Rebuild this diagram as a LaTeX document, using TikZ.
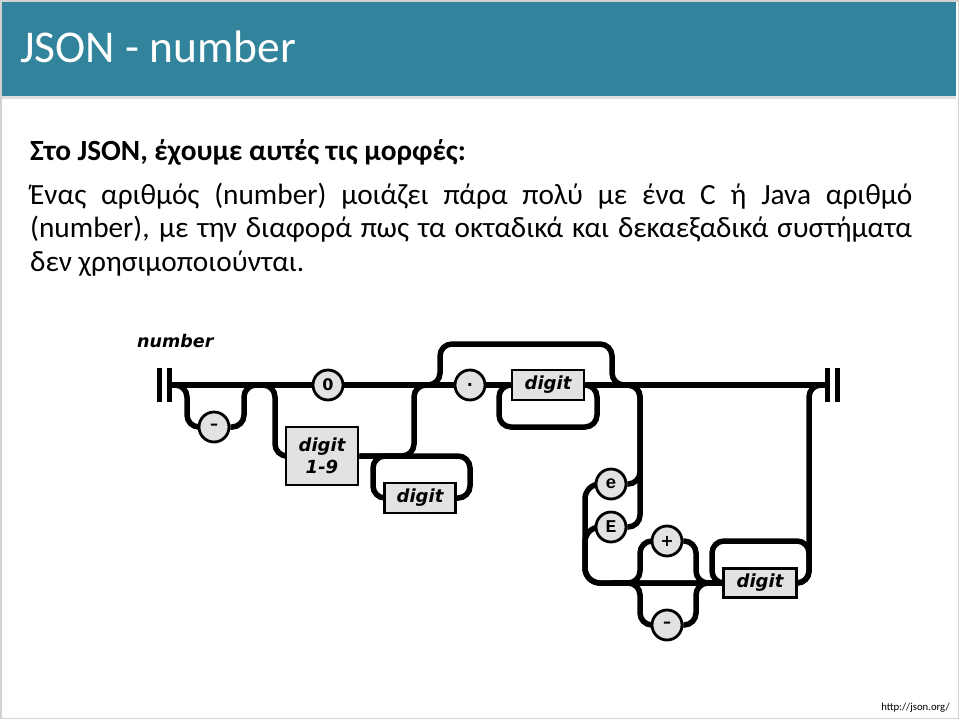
\documentclass[tikz,border=0pt]{standalone}
\usepackage{fontspec}
\setmainfont{Carlito}
\newfontfamily\railfont{DejaVu Sans}[ItalicFont={DejaVu Sans Oblique},BoldItalicFont={DejaVu Sans Bold Oblique}]
\newfontfamily\railmono{Liberation Mono}
\definecolor{titleteal}{HTML}{31849B}
\definecolor{railgray}{HTML}{E2E2E2}
\pgfdeclarelayer{rails}
\pgfsetlayers{rails,main}

\begin{document}
\begin{tikzpicture}[x=1pt, y=-1pt,
        rail/.style={line width=5.5pt, rounded corners=12pt},
        railbar/.style={line width=5pt},
        circ/.style={circle, draw, line width=2.8pt, fill=railgray, minimum size=30pt, inner sep=0pt, font=\railfont\bfseries\fontsize{16}{16}\selectfont},
        box/.style={rectangle, draw, line width=2.8pt, fill=railgray, minimum width=72pt, minimum height=30pt, inner sep=0pt, align=center, font=\railfont\bfseries\itshape\fontsize{18}{22}\selectfont}]
        \useasboundingbox (0,0) rectangle (960,720);
        \begin{pgfonlayer}{rails}
        \fill[white] (0,0) rectangle (960,720);
        \end{pgfonlayer}
        \draw[gray!35, line width=1.5pt] (1,1) rectangle (958.5,718.5);
        \fill[titleteal] (2,2) rectangle (956,96);
        \fill[gray!25] (2,96) rectangle (956,99);
        \node[anchor=base west, inner sep=0, text=white, font=\fontsize{45.5}{50}\selectfont] (title) at (20,62) {JSON - number};
        \node[anchor=base west, inner sep=0, font=\bfseries\fontsize{29.3}{34}\selectfont] (heading) at (30,160) {Στο JSON, έχουμε αυτές τις μορφές:};
        \node[anchor=base west, inner sep=0, font=\fontsize{29.3}{34}\selectfont] (line1) at (30,204) {\makebox[882pt][s]{Ένας αριθμός (number) μοιάζει πάρα πολύ με ένα C ή Java αριθμό}};
        \node[anchor=base west, inner sep=0, font=\fontsize{29.3}{34}\selectfont] (line2) at (30,237.5) {\makebox[882pt][s]{(number), με την διαφορά πως τα οκταδικά και δεκαεξαδικά συστήματα}};
        \node[anchor=base west, inner sep=0, font=\fontsize{29.3}{34}\selectfont] (line3) at (30,271) {δεν χρησιμοποιούνται.};
        \node[anchor=base east, inner sep=0, font=\fontsize{10.7}{12}\selectfont] (source) at (950,710) {http://json.org/};

        \node[anchor=base west, inner sep=0, font=\railfont\bfseries\itshape\fontsize{17.5}{20}\selectfont] (label) at (137,347) {number};
        \coordinate (begin) at (169.5,385);
        \coordinate (finish) at (827.5,385);
        \draw[railbar] (159.5,368) -- (159.5,402);
        \draw[railbar] (169.5,368) -- (169.5,402);
        \draw[railbar] (827.5,368) -- (827.5,402);
        \draw[railbar] (837.5,368) -- (837.5,402);

        \node[circ] (minus1) at (214,427) {–};
        \node[circ] (zero) at (328,385) {0};
        \node[box, minimum height=58pt] (d19) at (322,456) {digit\\1-9};
        \node[box, minimum width=71pt] (dig1) at (420,498) {digit};
        \node[circ] (dot) at (470,385) {.};
        \node[box] (dig2) at (548,385) {digit};
        \node[circ, font=\railmono\bfseries\fontsize{18}{18}\selectfont] (e) at (611,484) {e};
        \node[circ, font=\railmono\bfseries\fontsize{18}{18}\selectfont] (E) at (611,527) {E};
        \node[circ] (plus) at (667,541) {+};
        \node[circ] (minus2) at (667,625) {–};
        \node[box, minimum width=73pt, minimum height=29pt] (dig3) at (760,583) {digit};

        \begin{pgfonlayer}{rails}
        \draw[rail] (begin) -- (zero);
        \draw[rail] (zero) -- (dot);
        \draw[rail] (dot) -- (dig2);
        \draw[rail] (dig2) -- (finish);
        \draw[rail] (begin) -| (187,427) -- (minus1);
        \draw[rail] (minus1) -| (244,385) -- (zero);
        \draw[rail] (244,385) -| (275,456) -- (d19);
        \draw[rail] (d19) -- (470,456) -- (470,498) -- (dig1);
        \draw[rail] (dig1) -| (373,456) -- (d19.east -| 400,0);
        \draw[rail] (d19) -| (414,385) -- (dot);
        \draw[rail] (zero) -| (440,344) -| (612,385) -- (finish);
        \draw[rail] (dig2) -| (499,427) -| (597,385) -- (dig2);
        \draw[rail] (dig2) -| (640,484) -- (e);
        \draw[rail] (dig2) -| (640,527) -- (E);
        \draw[rail, rounded corners=15pt] (e) -| (585,583) -- (dig3);
        \draw[rail, rounded corners=15pt] (E) -| (585,583) -- (dig3);
        \draw[rail] (E |- dig3) -| (640,541) -- (plus);
        \draw[rail] (plus) -| (696,583) -- (dig3);
        \draw[rail] (E |- dig3) -| (640,625) -- (minus2);
        \draw[rail] (minus2) -| (696,583) -- (dig3);
        \draw[rail] (dig3) -| (809,385) -- (finish);
        \draw[rail] (dig3) -| (809,541) -| (712,583) -- (dig3);
        \end{pgfonlayer}
        \end{tikzpicture}
\end{document}
